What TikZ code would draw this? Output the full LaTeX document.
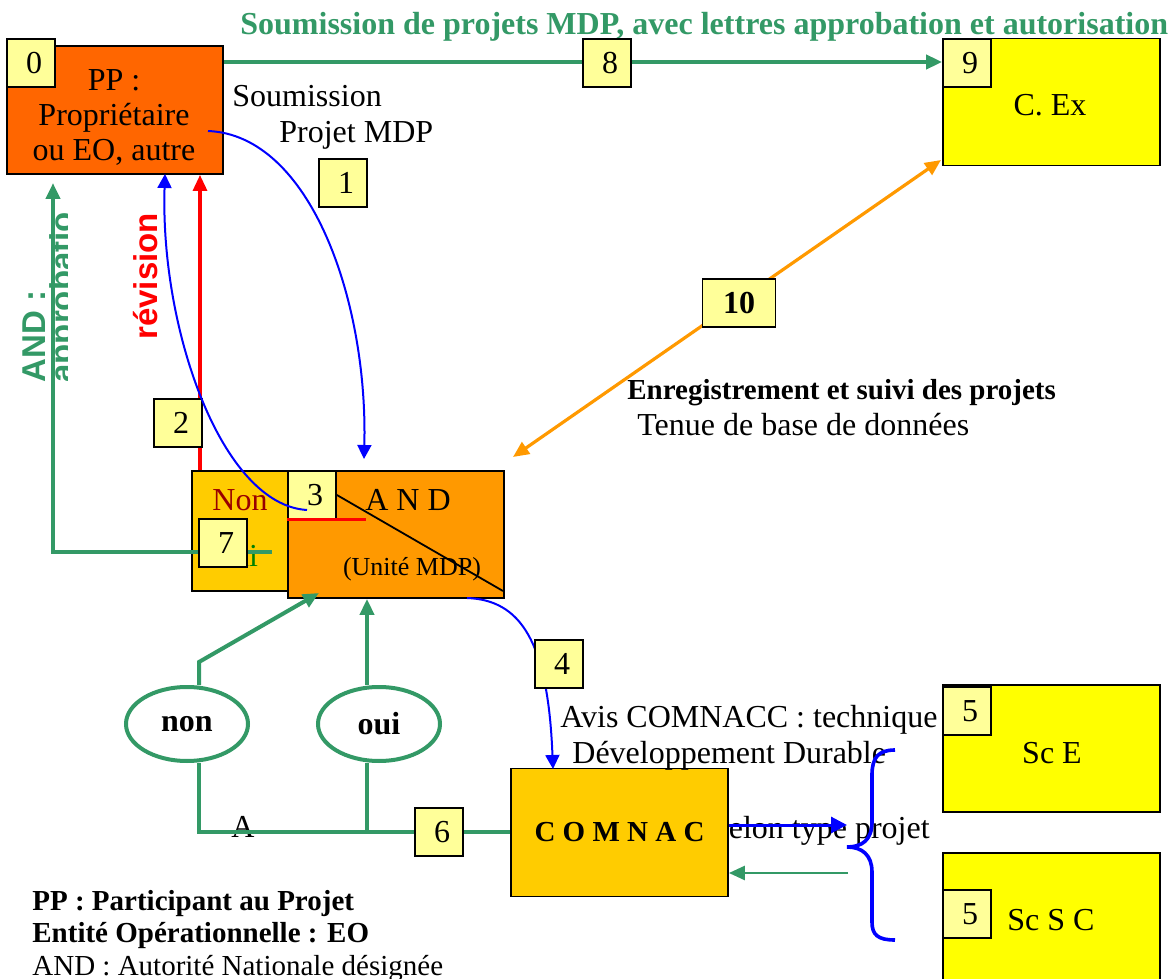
\documentclass[tikz,border=0pt]{standalone}
\usepackage{fontspec}
\setmainfont{Liberation Serif}
\newfontfamily\arialf{Liberation Sans}
\usetikzlibrary{arrows.meta,shapes.geometric}
\definecolor{ppor}{HTML}{FF6600}
\definecolor{andor}{HTML}{FF9900}
\definecolor{gold}{HTML}{FFCC00}
\definecolor{ylw}{HTML}{FFFF00}
\definecolor{lbl}{HTML}{FFFF99}
\definecolor{grn}{HTML}{339966}
\definecolor{dred}{HTML}{990000}
\definecolor{ogrn}{HTML}{008000}
\newcommand{\fsA}{\fontsize{16}{17.5}\selectfont}
\newcommand{\fsB}{\fontsize{14.5}{17}\selectfont}
\newcommand{\fsC}{\fontsize{13}{15}\selectfont}
\newcommand{\fsR}{\fontsize{16.5}{19}\selectfont}
\newcommand{\lbnum}[1]{\hspace*{3pt}\raisebox{-2pt}{#1}}
\begin{document}
\begin{tikzpicture}[x=0.5pt,y=-0.5pt,
  bx/.style={draw=black,line width=0.9pt,inner sep=0pt},
  lab/.style={bx,fill=lbl,minimum width=24pt,minimum height=24pt,font=\fsA},
  txt/.style={inner sep=0pt,font=\fsA},
  gln/.style={draw=grn,line width=2pt},
  garr/.style={draw=grn,line width=2pt,-{Triangle[length=8pt,width=7pt]}},
  barr/.style={draw=blue,line width=1pt,-{Triangle[length=7pt,width=7pt]}},
  oval/.style={ellipse,draw=grn,line width=2pt,minimum width=61pt,minimum height=37pt,inner sep=0pt,font=\fsA\bfseries}
]
\useasboundingbox (0,0) rectangle (1175,979);

% title
\node[txt,anchor=base west,font=\fsA\bfseries,text=grn] (title) at (240,35) {Soumission de projets MDP, avec lettres approbation et autorisation};

% rotated labels
\node[inner sep=0pt,rotate=90,anchor=base west,font=\arialf\bfseries\fsR,text=grn] (andap) at (46,383) {AND :};
\begin{scope}
\clip (0,211) rectangle (67,390);
\node[inner sep=0pt,rotate=90,anchor=base west,font=\arialf\bfseries\fsR,text=grn] (approb) at (74,383) {approbation};
\end{scope}
\node[inner sep=0pt,rotate=90,anchor=base west,font=\arialf\bfseries\fsR,text=red] (revis) at (157,340) {révision};

% main boxes
\node[bx,fill=ppor,minimum width=108pt,minimum height=64pt] (pp) at (115,110) {};
\node[txt,align=center,font=\fsA] (pptxt) at (114,117) {PP :\\Propriétaire\\ou EO, autre};
\node[bx,fill=ylw,minimum width=108.5pt,minimum height=63.5pt] (cex) at (1051.5,102) {};
\node[txt,anchor=base] (cextxt) at (1050,116) {C. Ex};

\node[bx,fill=gold,minimum width=48pt,minimum height=60pt] (nonbox) at (240,531) {};
\node[txt,anchor=base,text=dred] (nontxt) at (240,510) {Non};
\node[txt,anchor=base,text=ogrn] (ouitxt) at (234,567) {Oui};
\node[bx,fill=andor,minimum width=108pt,minimum height=63.5pt] (and) at (396,534.5) {};
\node[txt,anchor=base] (andtxt) at (408,510) {A N D};
\node[txt,anchor=base,font=\fsC] (unite) at (412,575) {(Unité MDP)};

\node[txt,anchor=base west] (selon) at (716,838) {selon type projet};
\node[bx,fill=gold,minimum width=108.5pt,minimum height=64pt,font=\fsB\bfseries] (comnac) at (619.5,832.5) {C O M N A C};

\node[bx,fill=ylw,minimum width=108.5pt,minimum height=63.5pt] (sce) at (1051.5,748.5) {};
\node[txt,anchor=base] (scetxt) at (1052,763) {Sc E};
\node[bx,fill=ylw,minimum width=108.5pt,minimum height=68.5pt] (scsc) at (1051.5,921.5) {};
\node[txt,anchor=base] (scsctxt) at (1051,930) {Sc S C};

% free texts
\node[txt,anchor=base west] (soum1) at (232,107) {Soumission};
\node[txt,anchor=base west] (soum2) at (279,143) {Projet MDP};
\node[txt,anchor=base west,font=\fsB\bfseries] (enreg) at (627,400) {Enregistrement et suivi des projets};
\node[txt,anchor=base west] (tenue) at (637,436) {Tenue de base de données};
\node[txt,anchor=base west] (avis1) at (560,727) {Avis COMNACC : technique};
\node[txt,anchor=base west] (avis2) at (572,763) {Développement Durable};
\node[txt,anchor=base] (atxt) at (243,837) {A};
\node[txt,anchor=base west,font=\fsB\bfseries] (leg1) at (32,910) {PP : Participant au Projet};
\node[txt,anchor=base west,font=\fsB\bfseries] (leg2) at (32,942) {Entité Opérationnelle : EO};
\node[txt,anchor=base west,font=\fsB] (leg3) at (32,975) {AND : Autorité Nationale désignée};

% ovals
\node[oval] (non) at (187,724) {non};
\node[oval] (oui) at (379,724) {oui};

% coordinates
\coordinate (a1) at (199,662);
\coordinate (a2) at (199,832);
\coordinate (t1) at (319,593);
\coordinate (o1) at (367,832);
\coordinate (g1) at (272,552);
\coordinate (g2) at (53,552);
\coordinate (g3) at (53,183);
\coordinate (rr) at (200,300);
\coordinate (b1s) at (208,131);
\coordinate (b1e) at (364,459);
\coordinate (b2s) at (307,510);
\coordinate (b2e) at (165,174);
\coordinate (b3s) at (467,598);
\coordinate (b3e) at (553,769);
\coordinate (o10a) at (513,457);
\coordinate (o10b) at (941,160);
\coordinate (d2) at (503,591);
\coordinate (bz) at (847,825);
\coordinate (gz) at (848,873);

% connectors
\draw[garr] (pp.east |- 0,62) -- (cex.west |- 0,62);
\draw[red,line width=1.6pt,-{Triangle[length=8pt,width=7pt]}] (nonbox.north -| rr) -- (pp.south -| rr);
\draw[garr] (g1) -- (g2) -- (g3);
\draw[garr] (non.north -| a1) -- (a1) -- (t1);
\draw[garr] (oui.north -| o1) -- (and.south -| o1);
\draw[gln] (non.south -| a2) -- (a2) -- (comnac.west |- a2);
\draw[gln] (oui.south -| o1) -- (o1);
\draw[barr] (b1s) .. controls (310,135) and (368,300) .. (b1e);
\draw[barr] (b3s) .. controls (520,600) and (548,640) .. (b3e);
\draw[draw=andor,line width=1.6pt,{Triangle[length=8pt,width=7pt]}-{Triangle[length=8pt,width=7pt]}] (o10a) -- (o10b);
\draw[draw=blue,line width=1.5pt,-{Triangle[length=8pt,width=8pt]}] (comnac.east |- bz) -- (bz);
\draw[draw=grn,line width=1.3pt,-{Triangle[length=8pt,width=7pt]}] (gz) -- (comnac.east |- gz);
\draw[blue,line width=1.8pt] (895,750) .. controls (878,750) and (872,758) .. (872,775) -- (872,822) .. controls (872,840) and (862,847) .. (847,847) .. controls (862,847) and (872,855) .. (872,872) -- (872,922) .. controls (872,935) and (878,940) .. (895,940);

% labels
\node[lab] (l0) at (31,63) {\lbnum{0}};
\node[lab] (l9) at (967,63) {\lbnum{9}};
\node[lab] (l8) at (607,63) {\lbnum{8}};
\node[lab] (l1) at (343,183) {\lbnum{1}};
\node[lab] (l2) at (178,423) {\lbnum{2}};
\node[lab] (l7) at (223,543) {\lbnum{7}};
\draw[gln] (l7.east |- g1) -- (g1);
\node[lab] (l3) at (312,495) {\lbnum{3}};
\draw[red,line width=1.5pt] (l3.south west) -- ++(79,0);
\draw[black,line width=0.9pt] (l3.east) -- (d2);
\draw[barr] (b2s) .. controls (222,505) and (160,330) .. (b2e);
\node[lab] (l4) at (559,664) {\lbnum{4}};
\node[lab] (l6) at (439,832) {\lbnum{6}};
\node[lab,minimum width=36.5pt,font=\fsA\bfseries] (l10) at (739,303) {\raisebox{-2pt}{10}};
\node[lab] (l5a) at (967,711) {\lbnum{5}};
\node[lab] (l5b) at (967,914) {\lbnum{5}};
\end{tikzpicture}
\end{document}
